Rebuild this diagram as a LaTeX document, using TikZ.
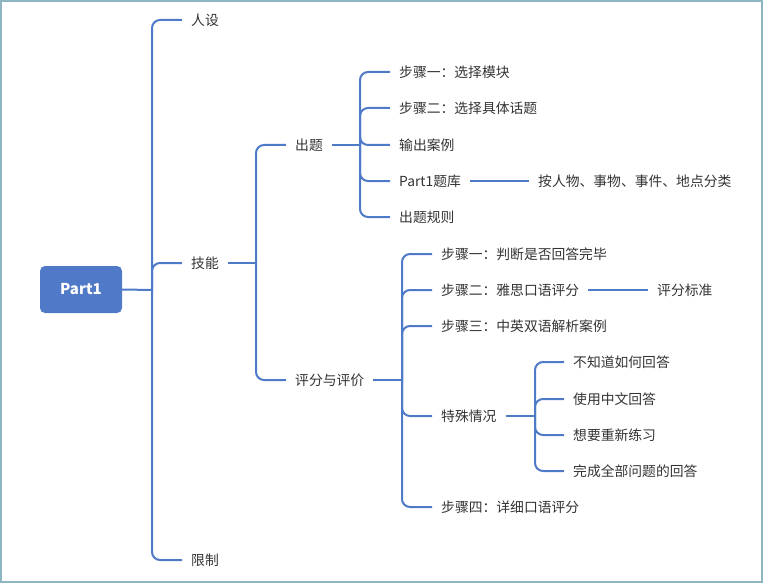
\documentclass[tikz,border=0pt]{standalone}
\usepackage{fontspec}
\setmainfont{Noto Sans CJK SC}
\usetikzlibrary{calc}
\definecolor{lineblue}{HTML}{4F7AC7}
\definecolor{rootblue}{HTML}{5079C8}
\definecolor{txt}{HTML}{333333}
\definecolor{frame}{HTML}{8FB5C2}
\tikzset{
  lbl/.style={anchor=west, inner xsep=9pt, inner ysep=2pt, text=txt, font=\fontsize{13.8}{16}\selectfont},
  conn/.style={draw=lineblue, line width=2pt, rounded corners=8pt},
  rootbox/.style={fill=rootblue, rounded corners=5pt, minimum width=82pt, minimum height=47pt, text=white, font=\fontsize{15}{18}\selectfont\bfseries}
}
\begin{document}
\begin{tikzpicture}[x=1pt,y=-1pt]
\useasboundingbox (0,0) rectangle (763,583);
\draw[frame, line width=2pt] (1,1) rectangle (762,582);

\node[rootbox] (root) at (81,289.5) {Part1};

\node[lbl] (rs) at (182,20) {人设};
\node[lbl] (jn) at (182,263) {技能};
\node[lbl] (xz) at (182,560) {限制};

\node[lbl] (ct) at (286,145) {出题};
\node[lbl] (pf) at (286,380) {评分与评价};

\node[lbl] (c1) at (390,72) {步骤一：选择模块};
\node[lbl] (c2) at (390,108) {步骤二：选择具体话题};
\node[lbl] (c3) at (390,145) {输出案例};
\node[lbl] (c4) at (390,181) {Part1题库};
\node[lbl] (c5) at (390,217) {出题规则};
\node[lbl] (c4a) at (529,181) {按人物、事物、事件、地点分类};

\node[lbl] (p1) at (432,254) {步骤一：判断是否回答完毕};
\node[lbl] (p2) at (432,290) {步骤二：雅思口语评分};
\node[lbl] (p3) at (432,326) {步骤三：中英双语解析案例};
\node[lbl] (p4) at (432,416) {特殊情况};
\node[lbl] (p5) at (432,507) {步骤四：详细口语评分};
\node[lbl] (p2a) at (648,290) {评分标准};

\node[lbl] (s1) at (564,362) {不知道如何回答};
\node[lbl] (s2) at (564,399) {使用中文回答};
\node[lbl] (s3) at (564,435) {想要重新练习};
\node[lbl] (s4) at (564,471) {完成全部问题的回答};

% junctions
\coordinate (j0) at (152,290);
\coordinate (j1) at (256,263);
\coordinate (j2) at (360,145);
\coordinate (j3) at (402,380);
\coordinate (j4) at (535,416);

\draw[conn] (root.east) -- (j0);
\foreach \c in {rs,jn,xz} \draw[conn] (j0) |- (\c.west);

\draw[conn] (jn.east) -- (j1);
\foreach \c in {ct,pf} \draw[conn] (j1) |- (\c.west);

\draw[conn] (ct.east) -- (j2);
\foreach \c in {c1,c2,c3,c4,c5} \draw[conn] (j2) |- (\c.west);
\draw[conn] (c4.east) -- (c4a.west);

\draw[conn] (pf.east) -- (j3);
\foreach \c in {p1,p2,p3,p4,p5} \draw[conn] (j3) |- (\c.west);
\draw[conn] (p2.east) -- (p2a.west);

\draw[conn] (p4.east) -- (j4);
\foreach \c in {s1,s2,s3,s4} \draw[conn] (j4) |- (\c.west);
\end{tikzpicture}
\end{document}
